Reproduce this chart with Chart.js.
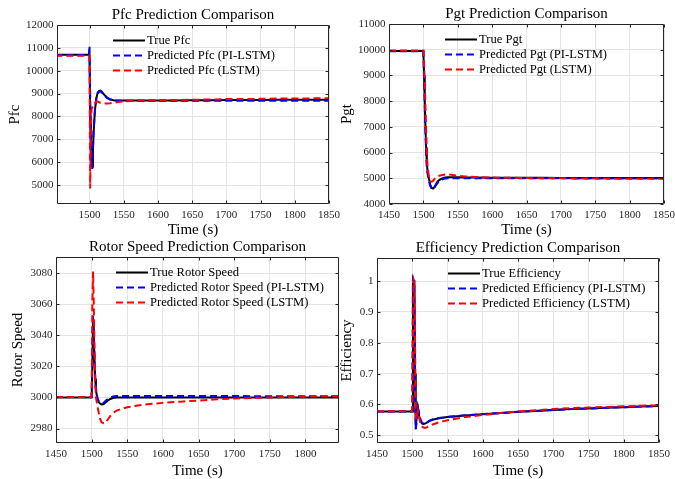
<!DOCTYPE html>
<html><head><meta charset="utf-8">
<script src="https://cdn.jsdelivr.net/npm/chart.js@4.4.1/dist/chart.umd.min.js"></script>
<style>
html,body{margin:0;padding:0;background:#fff;width:675px;height:479px;overflow:hidden;position:relative}
canvas{position:absolute}
</style></head><body>
<canvas id="c1"></canvas><canvas id="c2"></canvas><canvas id="c3"></canvas><canvas id="c4"></canvas>
<script>
// ---- data ----
const timeS = [1450,1480,1499,1500,1501,1502,1503,1504,1505,1506,1508,1510,1512,1514,1516,1518,1520,1523,1526,1530,1535,1540,1545,1550,1560,1575,1600,1625,1650,1675,1700,1725,1750,1775,1800,1825,1850];

const pfcTrue = [10700,10700,10700,10700, 8000,6500,5900,5800,6500,7300, 8300,8800,9050,9120,9130,9080,9000, 8900,8820,8750,8710,8700,8700,8700, 8700,8700,8700,8700,8710,8710,8720,8720,8720,8730,8730,8730,8730];
const pfcPI   = [10680,10680,10690,11100, 9000,7000,6200,5700,6600,7400, 8300,8800,9000,9080,9100,9050,8980, 8880,8800,8740,8700,8690,8690,8690, 8690,8690,8690,8690,8690,8690,8690,8690,8690,8690,8690,8690,8690];
const pfcLSTM = [10650,10650,10650,10650, 4850,7500,8300,8400,8500,8550, 8600,8650,8650,8620,8600,8600,8580, 8570,8570,8580,8600,8620,8640,8660, 8680,8700,8710,8720,8730,8740,8760,8760,8770,8780,8780,8790,8790];

const pgtTrue = [9950,9950,9950,9950, 9000,8000,7000,6200,5600,5300, 5000,4750,4620,4600,4650,4750,4850, 4930,4980,5020,5040,5040,5040,5040, 5030,5030,5020,5020,5020,5020,5010,5010,5010,5010,5010,5010,5010];
const pgtPI   = [9940,9940,9940,9940, 8800,7800,6800,6000,5400,5200, 4900,4700,4600,4580,4640,4720,4800, 4880,4940,4980,5000,5000,5000,5000, 5000,5000,5000,5000,5000,5000,5000,4995,4995,4990,4990,4990,4990];
const pgtLSTM = [9970,9970,9970,9970, 9500,8700,7800,6900,6000,5500, 5050,4880,4870,4900,4970,5030,5070, 5100,5120,5140,5150,5140,5120,5100, 5070,5050,5030,5020,5010,5000,5000,4990,4990,4985,4980,4980,4980];

const rotorTrue = [3000,3000,3000,3000, 3020,3048,3040,3025,3012,3005, 2999,2997,2996,2995.5,2995.6,2996.2,2997, 2998,2999,2999.6,3000,3000,3000,3000, 3000,3000,3000,3000,3000,3000,3000,3000,3000,3000,3000,3000,3000];
const rotorPI   = [3000.2,3000.2,3000.2,3000.2, 3025,3053,3042,3026,3013,3006, 3000,2997.5,2996.5,2996,2996.3,2997,2998, 2999,3000,3000.6,3001,3001,3001,3001, 3001,3001,3001,3001,3001,3001,3001,3000.8,3000.8,3000.8,3000.8,3000.8,3000.8];
const rotorLSTM = [3000.3,3000.3,3000.3,3000.5, 3060,3081,3060,3030,3010,3000, 2995,2990,2986,2984,2983.5,2983.3,2984, 2986,2988,2990,2991.5,2992.3,2993,2993.7, 2994.5,2995.5,2996.5,2997.3,2998,2998.8,2999.3,2999.7,3000,3000.3,3000.5,3000.7,3001];

const effTrue = [0.577,0.577,0.577,0.577, 0.99,1.0,1.0,0.7,0.52,0.55, 0.59,0.56,0.545,0.538,0.537,0.538,0.54, 0.544,0.548,0.551,0.554,0.556,0.558,0.559, 0.561,0.564,0.568,0.572,0.576,0.579,0.582,0.585,0.587,0.589,0.591,0.593,0.595];
const effPI   = [0.577,0.577,0.577,0.58, 1.01,1.005,1.0,0.6,0.52,0.54, 0.59,0.57,0.55,0.54,0.538,0.538,0.54, 0.545,0.549,0.552,0.555,0.557,0.558,0.56, 0.562,0.565,0.569,0.572,0.576,0.579,0.582,0.585,0.587,0.589,0.591,0.593,0.595];
const effLSTM = [0.578,0.578,0.578,0.578, 0.8,1.0,0.99,0.8,0.56,0.55, 0.58,0.555,0.535,0.528,0.525,0.524,0.525, 0.528,0.532,0.536,0.54,0.543,0.546,0.549, 0.553,0.559,0.566,0.572,0.577,0.581,0.585,0.588,0.59,0.592,0.594,0.596,0.597];

// tick labels
const timeTicks  = [1450,1500,1550,1600,1650,1700,1750,1800,1850];
const pfcTicks   = [5000,6000,7000,8000,9000,10000,11000,12000];
const pgtTicks   = [4000,5000,6000,7000,8000,9000,10000,11000];
const rotorTicks = [2980,3000,3020,3040,3060,3080];
const effTicks   = [0.5,0.6,0.7,0.8,0.9,1];

// ---- rendering ----
const FONT = '"Liberation Serif","Times New Roman",serif';
Chart.defaults.font.family = FONT;
Chart.defaults.color = '#262626';

const decor = {
  id: 'decor',
  afterDraw(chart, args, o) {
    const {ctx, chartArea: a, scales: {x, y}} = chart;
    ctx.save();
    ctx.strokeStyle = '#262626';
    ctx.lineWidth = 1;
    const L = Math.round(a.left) + 0.5, R = Math.round(a.right) - 0.5;
    const T = Math.round(a.top) + 0.5, B = Math.round(a.bottom) - 0.5;
    ctx.beginPath();
    ctx.rect(L, T, R - L, B - T);
    x.ticks.forEach(t => {
      const px = Math.round(x.getPixelForValue(t.value)) + 0.5;
      ctx.moveTo(px, B); ctx.lineTo(px, B - 3);
      ctx.moveTo(px, T); ctx.lineTo(px, T + 3);
    });
    y.ticks.forEach(t => {
      const py = Math.round(y.getPixelForValue(t.value)) + 0.5;
      ctx.moveTo(L, py); ctx.lineTo(L + 3, py);
      ctx.moveTo(R, py); ctx.lineTo(R - 3, py);
    });
    ctx.stroke();
    // title
    ctx.fillStyle = '#000';
    ctx.font = '15px ' + FONT;
    ctx.textAlign = 'center';
    ctx.textBaseline = 'middle';
    ctx.fillText(o.title, (a.left + a.right) / 2, a.top - 10);
    // legend
    ctx.font = '12.6px ' + FONT;
    ctx.textAlign = 'left';
    chart.data.datasets.forEach((ds, i) => {
      const yy = a.top + o.legY + i * 15;
      const x0 = a.left + o.legX;
      ctx.beginPath();
      ctx.strokeStyle = ds.borderColor;
      ctx.lineWidth = ds.borderWidth;
      ctx.setLineDash(ds.borderDash || []);
      ctx.moveTo(x0, yy); ctx.lineTo(x0 + 32, yy);
      ctx.stroke();
      ctx.setLineDash([]);
      ctx.fillStyle = '#000';
      ctx.fillText(ds.label, x0 + 34, yy + 0.5);
    });
    ctx.restore();
  }
};

function series(label, values, color, dash, order) {
  return {
    label, order,
    data: timeS.map((t, i) => ({x: t, y: values[i]})),
    borderColor: color, borderWidth: 2, borderDash: dash,
    pointRadius: 0, tension: 0, fill: false
  };
}

function makePanel(p) {
  const cv = document.getElementById(p.id);
  cv.width = p.cw; cv.height = p.ch;
  cv.style.left = p.cx + 'px'; cv.style.top = p.cy + 'px';
  const yW = p.l - p.cx, xH = p.cy + p.ch - p.b;
  const fmt = v => String(Math.round(v * 1000) / 1000);
  new Chart(cv, {
    type: 'line',
    data: {datasets: [
      series(p.names[0], p.vals[0], '#000000', [], 3),
      series(p.names[1], p.vals[1], '#0000ff', [7, 4], 2),
      series(p.names[2], p.vals[2], '#ff0000', [7, 4], 1)
    ]},
    options: {
      responsive: false, animation: false, events: [],
      layout: {padding: {top: p.t - p.cy, right: p.cx + p.cw - p.r, left: 0, bottom: 0}},
      plugins: {legend: {display: false}, tooltip: {enabled: false}, title: {display: false},
        decor: {title: p.title, legX: p.legX, legY: 15.5}},
      scales: {
        x: {
          type: 'linear', min: p.xmin, max: p.xmax,
          afterBuildTicks: s => { s.ticks = timeTicks.filter(v => v >= p.xmin && v <= p.xmax).map(v => ({value: v})); },
          afterFit: s => { s.height = xH; s.paddingLeft = 0; s.paddingRight = 0; },
          grid: {color: '#e4e4e4', drawTicks: false},
          border: {display: false},
          ticks: {padding: 4.5, maxRotation: 0, autoSkip: false, font: {size: 11}, callback: fmt},
          title: {display: true, text: 'Time (s)', color: '#000', font: {size: 15}, padding: {top: 0, bottom: p.xtb}}
        },
        y: {
          type: 'linear', min: p.ymin, max: p.ymax,
          afterBuildTicks: s => { s.ticks = p.yticks.map(v => ({value: v})); },
          afterFit: s => { s.width = yW; s.paddingTop = 0; s.paddingBottom = 0; },
          grid: {color: '#e4e4e4', drawTicks: false},
          border: {display: false},
          ticks: {padding: 3.5, autoSkip: false, font: {size: 11}, callback: fmt},
          title: {display: true, text: p.ylabel, color: '#000', font: {size: 15}, padding: {top: p.ytp, bottom: 0}}
        }
      }
    },
    plugins: [decor]
  });
}

makePanel({id: 'c1', cx: 0, cy: 0, cw: 345, ch: 242, l: 57, t: 25, r: 329, b: 204,
  xmin: 1452.5, xmax: 1850, ymin: 4169, ymax: 12000, yticks: pfcTicks,
  title: 'Pfc Prediction Comparison', ylabel: 'Pfc', ytp: 6, xtb: 3, legX: 56,
  names: ['True Pfc', 'Predicted Pfc (PI-LSTM)', 'Predicted Pfc (LSTM)'],
  vals: [pfcTrue, pfcPI, pfcLSTM]});
makePanel({id: 'c2', cx: 335, cy: 0, cw: 340, ch: 242, l: 389, t: 24, r: 664, b: 204,
  xmin: 1450, xmax: 1850, ymin: 4000, ymax: 11000, yticks: pgtTicks,
  title: 'Pgt Prediction Comparison', ylabel: 'Pgt', ytp: 2.7, xtb: 3, legX: 56,
  names: ['True Pgt', 'Predicted Pgt (PI-LSTM)', 'Predicted Pgt (LSTM)'],
  vals: [pgtTrue, pgtPI, pgtLSTM]});
makePanel({id: 'c3', cx: 0, cy: 237, cw: 345, ch: 250, l: 56, t: 257, r: 339, b: 443,
  xmin: 1450, xmax: 1847, ymin: 2970.7, ymax: 3090.3, yticks: rotorTicks,
  title: 'Rotor Speed Prediction Comparison', ylabel: 'Rotor Speed', ytp: 9, xtb: 7, legX: 60,
  names: ['True Rotor Speed', 'Predicted Rotor Speed (PI-LSTM)', 'Predicted Rotor Speed (LSTM)'],
  vals: [rotorTrue, rotorPI, rotorLSTM]});
makePanel({id: 'c4', cx: 336, cy: 237, cw: 339, ch: 250, l: 377, t: 258, r: 659, b: 443,
  xmin: 1450, xmax: 1850, ymin: 0.475, ymax: 1.075, yticks: effTicks,
  title: 'Efficiency Prediction Comparison', ylabel: 'Efficiency', ytp: 2.5, xtb: 7, legX: 71,
  names: ['True Efficiency', 'Predicted Efficiency (PI-LSTM)', 'Predicted Efficiency (LSTM)'],
  vals: [effTrue, effPI, effLSTM]});
</script>
</body></html>
